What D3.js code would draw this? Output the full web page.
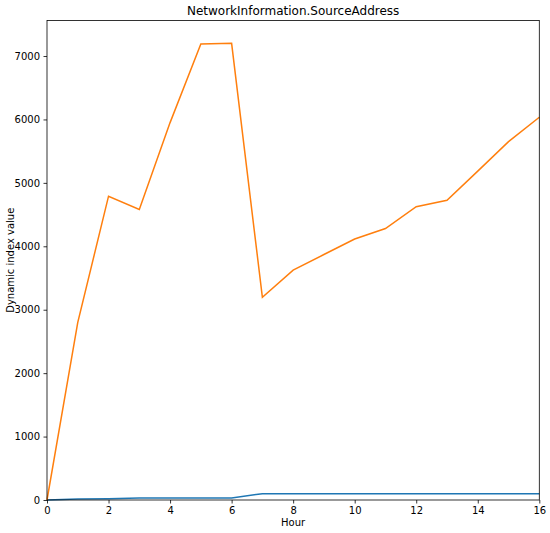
<!DOCTYPE html>
<html><head><meta charset="utf-8">
<script src="https://cdn.jsdelivr.net/npm/d3@7"></script>
<style>body{margin:0;background:#fff}svg text{font-family:"DejaVu Sans",sans-serif}</style>
</head><body><svg id="c" width="550" height="533"></svg>
<script>
const hours = [0,1,2,3,4,5,6,7,8,9,10,11,12,13,14,15,16];
const seriesBlue = [0,15,20,30,30,30,30,100,100,100,100,100,100,100,100,100,100];
const seriesOrange = [0,2800,4790,4580,5950,7190,7200,3195,3625,3870,4115,4280,4625,4725,5185,5650,6035];
const xTicks = [0,2,4,6,8,10,12,14,16];
const yTicks = [0,1000,2000,3000,4000,5000,6000,7000];
const title = "NetworkInformation.SourceAddress";
const xLabel = "Hour";
const yLabel = "Dynamic index value";

const svg = d3.select("#c");
const m = {l:47, r:539.3, t:20.5, b:500};
const x = d3.scaleLinear().domain([0,16]).range([m.l,m.r]);
const yMax = d3.max(seriesOrange)*1.05;
const y = d3.scaleLinear().domain([0,yMax]).range([m.b,m.t]);

const line = d3.line().x((d,i)=>x(hours[i])).y(d=>y(d));
svg.append("path").datum(seriesBlue).attr("d",line).attr("fill","none").attr("stroke","#1f77b4").attr("stroke-width",1.5);
svg.append("path").datum(seriesOrange).attr("d",line).attr("fill","none").attr("stroke","#ff7f0e").attr("stroke-width",1.5);

const xa = svg.append("g").attr("transform",`translate(0,${m.b})`).call(d3.axisBottom(x).tickValues(xTicks).tickSize(3.5).tickPadding(3.5).tickFormat(d3.format("d")));
const ya = svg.append("g").attr("transform",`translate(${m.l},0)`).call(d3.axisLeft(y).tickValues(yTicks).tickSize(3.5).tickPadding(3.5).tickFormat(d3.format("d")));
[xa,ya].forEach(a=>{a.select(".domain").remove();a.selectAll("text").attr("font-size",10).attr("fill","#000").attr("font-family","DejaVu Sans");a.selectAll("line").attr("stroke","#000").attr("stroke-width",0.8);});

svg.append("rect").attr("x",m.l).attr("y",m.t).attr("width",m.r-m.l).attr("height",m.b-m.t).attr("fill","none").attr("stroke","#000").attr("stroke-width",0.8);

svg.append("text").attr("x",(m.l+m.r)/2).attr("y",15).attr("text-anchor","middle").attr("font-size",12).text(title);
svg.append("text").attr("x",(m.l+m.r)/2).attr("y",526).attr("text-anchor","middle").attr("font-size",10).text(xLabel);
svg.append("text").attr("transform",`translate(14,${(m.t+m.b)/2}) rotate(-90)`).attr("text-anchor","middle").attr("font-size",10).text(yLabel);
</script></body></html>
